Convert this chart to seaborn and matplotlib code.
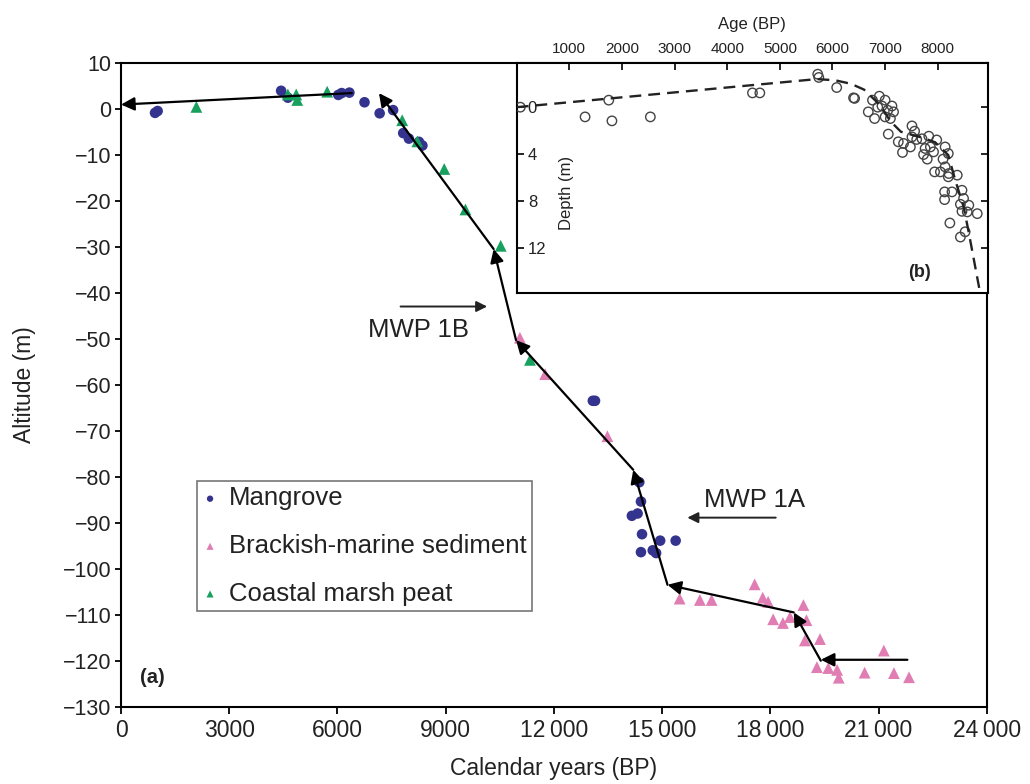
import matplotlib
matplotlib.use("Agg")
import matplotlib.pyplot as plt
import seaborn as sns
import pandas as pd
import numpy as np
from matplotlib.ticker import FuncFormatter

sns.set_theme(style="white")
plt.rcParams['font.family'] = ['Liberation Sans', 'DejaVu Sans']
plt.rcParams['axes.unicode_minus'] = True

# ---------------- data (main panel a) ----------------
mangrove_years = [943, 1015, 4438, 4625, 6023, 6117, 6331, 6750, 7170, 7543, 7823, 7980,
                  8260, 8355, 13080, 13140, 14368, 14414, 14162, 14321, 14443, 14946, 15376,
                  14414, 14741, 14834]
mangrove_alt = [-0.9, -0.5, 3.9, 2.4, 3.0, 3.4, 3.5, 1.4, -1.0, -0.3, -5.3, -6.5,
                -7.2, -8.0, -63.5, -63.5, -81.2, -85.4, -88.5, -88.0, -92.5, -93.9, -93.9,
                -96.4, -96.0, -96.6]

brackish_years = [11058, 11758, 13483, 15487, 16047, 16373, 17566, 17790, 17939, 18079,
                  18350, 18546, 18918, 19002, 18957, 19377, 19292, 19608, 19852, 19897,
                  20615, 21147, 21427, 21846]
brackish_alt = [-49.8, -57.7, -71.2, -106.5, -106.8, -106.8, -103.4, -106.3, -107.2, -111.0,
                -111.8, -110.5, -107.9, -111.2, -115.6, -115.3, -121.4, -121.6, -122.0, -123.7,
                -122.6, -117.8, -122.7, -123.6]

peat_years = [2089, 4625, 4857, 4885, 5715, 7795, 8214, 8960, 9548, 10526, 11337]
peat_alt = [0.4, 3.1, 3.1, 1.9, 3.7, -2.5, -7.1, -13.1, -21.9, -29.8, -54.6]

# arrow segments of the sea-level curve (start -> end)
seg_start_years = [6400, 10330, 10950, 14200, 15150, 18650, 19400, 21800]
seg_start_alt = [3.4, -30.5, -50.3, -78.5, -103.5, -109.5, -120.0, -119.8]
seg_end_years = [0, 7150, 10330, 10950, 14200, 15150, 18650, 19400]
seg_end_alt = [0.9, 3.4, -30.5, -50.3, -78.5, -103.5, -109.5, -119.8]

x_ticks = [0, 3000, 6000, 9000, 12000, 15000, 18000, 21000, 24000]
y_ticks = list(range(10, -131, -10))

# ---------------- data (inset panel b) ----------------
inset_age = [70, 1300, 1750, 1810, 2540, 4480, 4620, 5720, 5740, 6080, 6400, 6420,
             6680, 6800, 6760, 6890, 7000, 6860, 6940, 7050, 7130, 7160, 7000, 7100,
             7060, 7250, 7350, 7330, 7510, 7560, 7510, 7480, 7600, 7700, 7830, 7980,
             7760, 7860, 7730, 7800, 7920, 8140, 8200, 8100, 8140, 7940, 8050, 8210,
             8370, 8200, 8130, 8130, 8270, 8460, 8490, 8430, 8590, 8460, 8560, 8750,
             8230, 8520, 8430]
inset_depth = [0.0, 0.83, -0.6, 1.17, 0.83, -1.22, -1.22, -2.82, -2.54, -1.68, -0.8, -0.75,
               0.4, 0.97, -0.6, -0.94, -0.6, 0.0, -0.1, 0.26, -0.1, 0.4, 0.83, 0.97,
               2.3, 2.96, 3.1, 3.87, 1.6, 2.05, 2.54, 3.4, 2.76, 2.7, 2.48, 2.8,
               3.53, 3.4, 4.05, 4.44, 3.82, 3.4, 3.96, 4.44, 5.1, 5.53, 5.53, 5.67,
               5.81, 5.95, 7.24, 7.9, 7.24, 7.1, 7.8, 8.3, 8.38, 8.9, 8.95, 9.1,
               9.9, 10.65, 11.1]
curve_age = [0, 5700, 6050, 6350, 6600, 6900, 7100, 7300, 7700, 7950, 8200, 8330, 8490, 8580, 8810]
curve_depth = [0.0, -2.4, -2.3, -2.0, -1.5, -0.2, 1.2, 2.1, 2.6, 3.0, 4.1, 6.2, 8.5, 10.5, 16.0]
inset_x_ticks = [1000, 2000, 3000, 4000, 5000, 6000, 7000, 8000]
inset_y_ticks = [0, 4, 8, 12]

# ---------------- colours ----------------
c_mangrove = '#34348f'
c_brackish = '#e07db3'
c_peat = '#17a05e'
txt = '#222222'

fig = plt.figure(figsize=(10.3, 7.84), dpi=100)
ax = fig.add_axes([0.1175, 0.0986, 0.8405, 0.8214])

sns.scatterplot(x=mangrove_years, y=mangrove_alt, marker='o', s=58, color=c_mangrove,
                edgecolor='none', label='Mangrove', ax=ax, zorder=3)
sns.scatterplot(x=brackish_years, y=brackish_alt, marker='^', s=72, color=c_brackish,
                edgecolor='none', label='Brackish-marine sediment', ax=ax, zorder=3)
sns.scatterplot(x=peat_years, y=peat_alt, marker='^', s=72, color=c_peat,
                edgecolor='none', label='Coastal marsh peat', ax=ax, zorder=3)

for xs, ys, xe, ye in zip(seg_start_years, seg_start_alt, seg_end_years, seg_end_alt):
    ax.annotate('', xy=(xe, ye), xytext=(xs, ys),
                arrowprops=dict(arrowstyle='-|>', color='black', lw=1.6,
                                mutation_scale=20, shrinkA=0, shrinkB=0), zorder=4)

# MWP annotations
ax.annotate('', xy=(10150, -43.0), xytext=(7750, -43.0),
            arrowprops=dict(arrowstyle='-|>', color=txt, lw=1.4, mutation_scale=16,
                            shrinkA=0, shrinkB=0))
ax.text(8250, -48.0, 'MWP 1B', ha='center', va='center', fontsize=18.5, color=txt)
ax.annotate('', xy=(15700, -88.9), xytext=(18150, -88.9),
            arrowprops=dict(arrowstyle='-|>', color=txt, lw=1.4, mutation_scale=16,
                            shrinkA=0, shrinkB=0))
ax.text(17550, -85.0, 'MWP 1A', ha='center', va='center', fontsize=18.5, color=txt)
ax.text(0.036, 0.046, '(a)', transform=ax.transAxes, ha='center', va='center',
        fontsize=14.5, fontweight='bold', color=txt)

ax.set_xlim(0, 24000)
ax.set_ylim(-130, 10)
ax.set_xticks(x_ticks)
ax.set_yticks(y_ticks)
ax.xaxis.set_major_formatter(FuncFormatter(lambda v, p: f"{int(v):,}".replace(',', '\u2009') if v >= 10000 else f"{int(v)}"))
ax.tick_params(axis='x', direction='out', length=5, width=1.3, colors='black',
               labelcolor=txt, labelsize=16.5, pad=4, bottom=True)
ax.tick_params(axis='y', direction='out', length=4, width=1.3, colors='black',
               labelcolor=txt, labelsize=15.5, pad=3, left=True)
for s in ax.spines.values():
    s.set_color('black')
    s.set_linewidth(1.5)
ax.set_xlabel('Calendar years (BP)', fontsize=16.5, color=txt, labelpad=11)
ax.set_ylabel('Altitude (m)', fontsize=16.5, color=txt, labelpad=19)

handles, labels = ax.get_legend_handles_labels()
leg = ax.legend(handles, labels, loc='upper left', bbox_to_anchor=(0.088, 0.35),
                fontsize=18.5, markerscale=0.6, frameon=True, fancybox=False,
                borderaxespad=0, handlelength=0.6, handletextpad=0.45,
                labelspacing=0.92, borderpad=0.2)
leg.get_frame().set_edgecolor('#555555')
leg.get_frame().set_linewidth(1.2)
for t in leg.get_texts():
    t.set_color(txt)

# ---------------- inset ----------------
axin = fig.add_axes([0.5016, 0.626, 0.4574, 0.294])
axin.set_facecolor('white')
axin.set_zorder(5)
sns.scatterplot(x=inset_age, y=inset_depth, marker='o', s=46, ax=axin,
                facecolor='none', edgecolor='#444444', linewidth=1.0, zorder=3)
for coll in axin.collections:
    coll.set_facecolor('none')
    coll.set_edgecolor('#444444')
sns.lineplot(x=curve_age, y=curve_depth, sort=False, color='#222222', lw=1.7,
             linestyle=(0, (5, 3)), ax=axin, zorder=4)
axin.set_xlim(0, 8950)
axin.set_ylim(15.9, -3.8)
axin.set_xticks(inset_x_ticks)
axin.set_yticks(inset_y_ticks)
axin.xaxis.tick_top()
axin.xaxis.set_label_position('top')
axin.set_xlabel('Age (BP)', fontsize=12, color=txt, labelpad=9)
axin.tick_params(axis='x', direction='in', length=5, width=1.2, colors='black',
                 labelcolor=txt, labelsize=11, top=True, bottom=False, pad=5)
axin.tick_params(axis='y', direction='in', length=5, width=1.2, colors='black',
                 labelcolor=txt, labelsize=12, left=True, right=True, pad=-8)
for lab in axin.get_yticklabels():
    lab.set_horizontalalignment('left')
axin.set_ylabel('')
for s in axin.spines.values():
    s.set_color('black')
    s.set_linewidth(1.5)
axin.text(0.105, 0.435, 'Depth (m)', rotation=90, transform=axin.transAxes,
          ha='center', va='center', fontsize=12, color=txt)
axin.text(0.856, 0.092, '(b)', transform=axin.transAxes, ha='center', va='center',
          fontsize=13, fontweight='bold', color=txt)

fig.savefig('out.png', dpi=100, facecolor='white')
